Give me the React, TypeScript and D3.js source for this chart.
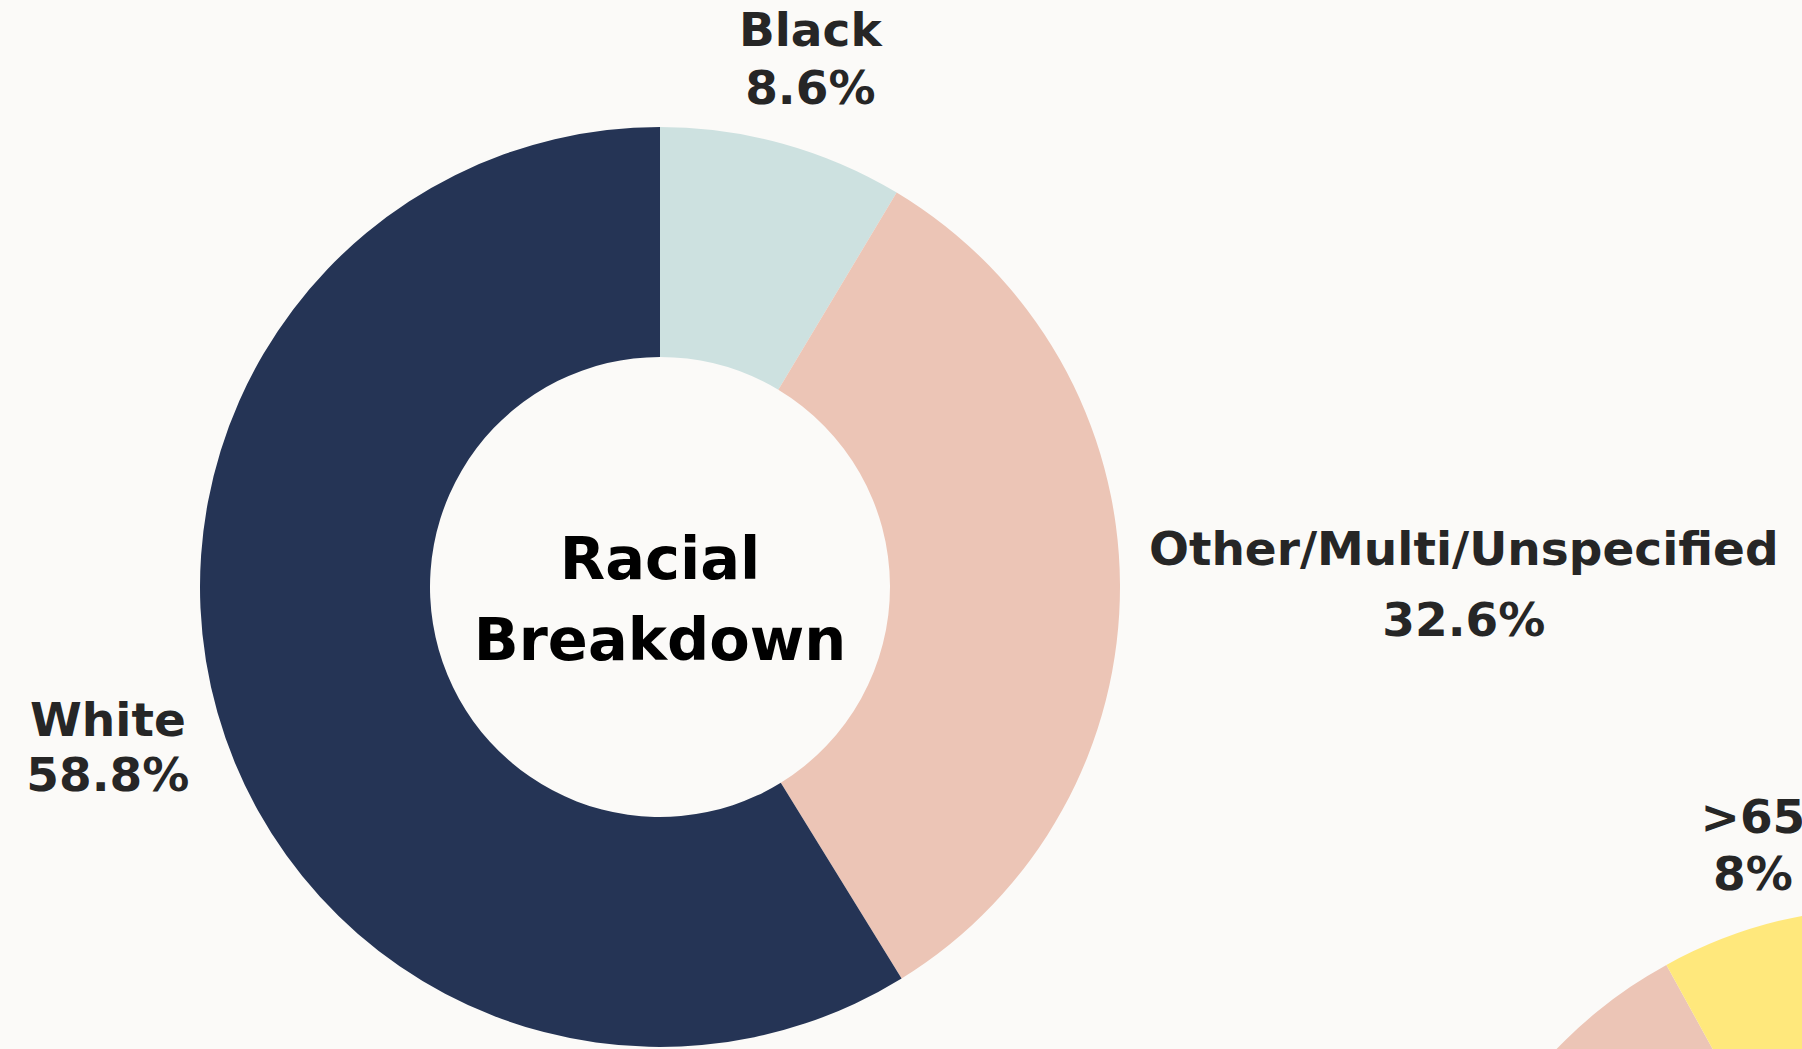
import React, { useMemo } from "react";
import * as d3 from "d3";

const WIDTH = 1802;
const HEIGHT = 1049;

const raceCategories = ["Black", "Other/Multi/Unspecified", "White"];
const raceValues = [8.6, 32.6, 58.8];
const raceColors = ["#cde1e0", "#ecc5b6", "#253455"];
const raceTitle = ["Racial", "Breakdown"];

const ageCategories = ["<35", "35-64", ">65"];
const ageValues = [22, 70, 8];
const ageColors = ["#cde1e0", "#ecc5b6", "#ffe87c"];
const ageTitle = ["Age", "Breakdown"];

const FONT = "'DejaVu Sans', sans-serif";
const LABEL_SIZE = 47;
const LINE_H = 57.6;
const TITLE_SIZE = 59;
const TITLE_LINE_H = 81;
const OFFSET = 25;
const PAD = 4;

// per-label styling tweaks (line spacing / vertical nudge)
const labelStyle: Record<string, { lineH?: number; dy?: number }> = {
  "Other/Multi/Unspecified": { lineH: 71 },
  White: { lineH: 55, dy: 10 },
  ">65": { dy: 8 },
};

let ctx: CanvasRenderingContext2D | null = null;
function measure(text: string, size: number) {
  if (!ctx) ctx = document.createElement("canvas").getContext("2d");
  if (!ctx) return text.length * size * 0.6;
  ctx.font = `bold ${size}px 'DejaVu Sans'`;
  return ctx.measureText(text).width;
}

type DonutProps = {
  cx: number;
  cy: number;
  r: number;
  categories: string[];
  values: number[];
  colors: string[];
  title: string[];
};

function Donut({ cx, cy, r, categories, values, colors, title }: DonutProps) {
  const arcs = useMemo(
    () =>
      d3
        .pie<number>()
        .sort(null)
        .value((d) => d)(values),
    [values]
  );
  const arcGen = d3.arc<d3.PieArcDatum<number>>().innerRadius(r / 2).outerRadius(r);
  const fmt = (v: number) => `${v}%`;

  return (
    <g transform={`translate(${cx},${cy})`}>
      {arcs.map((a, i) => (
        <path key={i} d={arcGen(a) || ""} fill={colors[i]} />
      ))}
      {arcs.map((a, i) => {
        const st = labelStyle[categories[i]] || {};
        const lh = st.lineH ?? LINE_H;
        const mid = (a.startAngle + a.endAngle) / 2;
        const vx = Math.sin(mid);
        const vy = -Math.cos(mid);
        const px = r * vx;
        const py = r * vy;
        const lines = [categories[i], fmt(values[i])];
        const tw = Math.max(...lines.map((l) => measure(l, LABEL_SIZE)));
        const w = tw + PAD * 2;
        const h = lines.length * lh + PAD * 2;
        const vs = 1 / Math.max(Math.abs(vx), Math.abs(vy));
        const lx = px + (w / 2) * vx * vs + OFFSET * vx;
        const ly = py + (h / 2) * vy * vs + OFFSET * vy + (st.dy ?? 0);
        return (
          <text
            key={"l" + i}
            textAnchor="middle"
            fontFamily={FONT}
            fontWeight="bold"
            fontSize={LABEL_SIZE}
            fill="#262626"
          >
            {lines.map((l, j) => (
              <tspan
                key={j}
                x={lx}
                y={ly + (j - (lines.length - 1) / 2) * lh + LABEL_SIZE * 0.36}
              >
                {l}
              </tspan>
            ))}
          </text>
        );
      })}
      <text
        textAnchor="middle"
        fontFamily={FONT}
        fontWeight="bold"
        fontSize={TITLE_SIZE}
        fill="#000000"
      >
        {title.map((t, j) => (
          <tspan
            key={j}
            x={0}
            y={(j - (title.length - 1) / 2) * TITLE_LINE_H + TITLE_SIZE * 0.36 + 11}
          >
            {t}
          </tspan>
        ))}
      </text>
    </g>
  );
}

export default function App() {
  return (
    <div
      style={{
        position: "fixed",
        left: 0,
        top: 0,
        width: WIDTH,
        height: HEIGHT,
        background: "#fbfaf8",
        overflow: "hidden",
      }}
    >
      <svg width={WIDTH} height={HEIGHT} style={{ display: "block" }}>
        <rect width={WIDTH} height={HEIGHT} fill="#fbfaf8" />
        <Donut
          cx={660}
          cy={587}
          r={460}
          categories={raceCategories}
          values={raceValues}
          colors={raceColors}
          title={raceTitle}
        />
        <Donut
          cx={1888}
          cy={1368}
          r={460}
          categories={ageCategories}
          values={ageValues}
          colors={ageColors}
          title={ageTitle}
        />
      </svg>
    </div>
  );
}
